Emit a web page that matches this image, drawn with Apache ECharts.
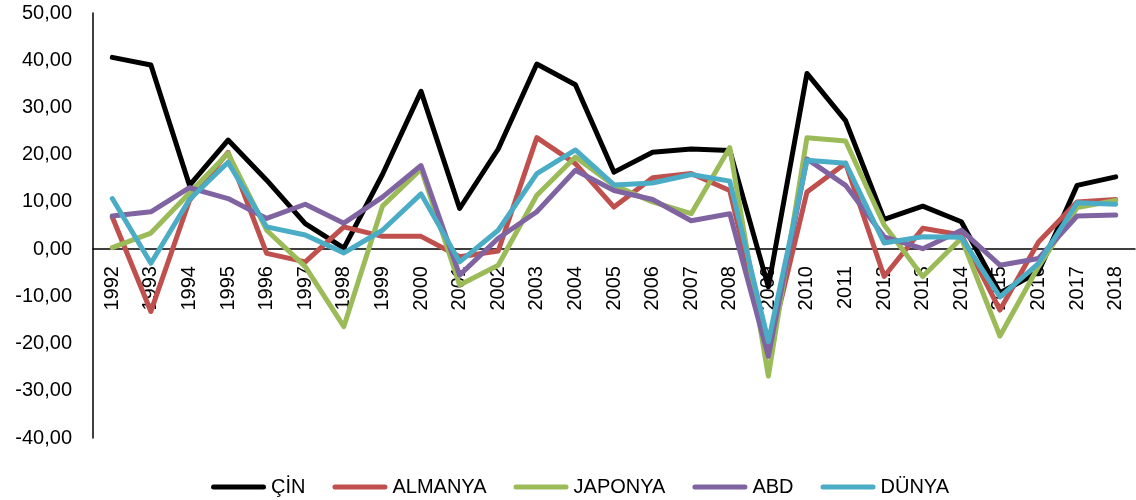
<!DOCTYPE html>
<html>
<head>
<meta charset="utf-8">
<script src="https://cdn.jsdelivr.net/npm/echarts@6/dist/echarts.min.js"></script>
<style>
html,body{margin:0;padding:0;background:#fff;}
#chart{width:1136px;height:500px;}
</style>
</head>
<body>
<div id="chart"></div>
<script>
const years = ['1992','1993','1994','1995','1996','1997','1998','1999','2000','2001','2002','2003','2004','2005','2006','2007','2008','2009','2010','2011','2012','2013','2014','2015','2016','2017','2018'];
const cin =     [40.6, 39.0, 13.5, 23.1, 14.6, 5.4, 0.2, 15.8, 33.4, 8.6, 21.2, 39.2, 34.8, 16.3, 20.5, 21.2, 20.9, -8.0, 37.2, 27.2, 6.3, 9.1, 5.8, -9.3, -4.8, 13.5, 15.3];
const almanya = [6.8, -13.2, 10.3, 20.5, -0.9, -2.7, 4.7, 2.7, 2.7, -1.6, -0.4, 23.6, 18.1, 8.9, 15.1, 16.0, 12.4, -22.0, 12.1, 18.2, -5.8, 4.4, 3.0, -12.9, 1.5, 10.0, 10.5];
const japonya = [0.3, 3.4, 11.9, 20.3, 4.0, -3.7, -16.4, 9.1, 17.0, -7.6, -3.4, 11.4, 19.5, 13.5, 10.0, 7.5, 21.5, -26.9, 23.6, 22.9, 5.1, -5.8, 2.3, -18.4, -3.7, 8.8, 10.3];
const abd =     [7.0, 7.9, 13.0, 10.7, 6.5, 9.5, 5.5, 11.0, 17.7, -5.5, 2.3, 7.9, 16.7, 12.4, 10.5, 6.0, 7.5, -22.7, 19.1, 13.5, 2.6, 0.1, 4.0, -3.4, -2.0, 7.0, 7.2];
const dunya =   [10.7, -3.0, 10.5, 18.4, 4.7, 3.0, -0.8, 4.0, 11.7, -2.7, 4.0, 16.0, 21.0, 13.6, 14.0, 15.8, 14.4, -19.6, 18.8, 18.2, 1.3, 2.6, 2.5, -10.1, -3.0, 9.8, 9.5];
const seriesNames = ['ÇİN','ALMANYA','JAPONYA','ABD','DÜNYA'];
const seriesColors = ['#000000','#C0504D','#9BBB59','#8064A2','#4BACC6'];
const seriesData = [cin, almanya, japonya, abd, dunya];
const yMin = -40, yMax = 50, yStep = 10;

const font = "'Liberation Sans', Arial, sans-serif";
const gridTop = 13, gridBottom = 62, H = 500;
const plotH = H - gridTop - gridBottom;
const zeroOffset = -plotH * (0 - yMin) / (yMax - yMin);

const chart = echarts.init(document.getElementById('chart'), null, {renderer:'canvas'});
const icon = 'path://M2.5,0H52.5A2.5,2.5,0,0,1,52.5,5H2.5A2.5,2.5,0,0,1,2.5,0Z';
chart.setOption({
  animation:false,
  backgroundColor:'#ffffff',
  grid:{left:93, right:1, top:gridTop, bottom:gridBottom, containLabel:false},
  legend:{
    left:206, top:472,
    itemWidth:55, itemHeight:5, itemGap:27,
    icon: icon,
    data: seriesNames.map((n,i)=>({name:n, icon:icon, itemStyle:{color:seriesColors[i]}})),
    textStyle:{fontFamily:font, fontSize:20, color:'#000'}
  },
  xAxis:{
    type:'category', data:years, boundaryGap:true,
    offset: zeroOffset,
    axisLine:{onZero:false, lineStyle:{color:'#000', width:1.5}},
    axisTick:{show:false},
    axisLabel:{rotate:90, margin:17, interval:0, fontFamily:font, fontSize:20, color:'#000'},
    splitLine:{show:false}
  },
  yAxis:{
    type:'value', min:yMin, max:yMax, interval:yStep,
    axisLine:{show:true, lineStyle:{color:'#000', width:1.5}},
    axisTick:{show:false},
    splitLine:{show:false},
    axisLabel:{margin:21, fontFamily:font, fontSize:20, color:'#000',
      formatter:v=>v.toFixed(2).replace('.',',')}
  },
  series: seriesNames.map((n,i)=>({
    name:n, type:'line', data:seriesData[i], symbol:'none',
    lineStyle:{color:seriesColors[i], width:5, join:'round', cap:'round'},
    itemStyle:{color:seriesColors[i]}
  }))
});
</script>
</body>
</html>
